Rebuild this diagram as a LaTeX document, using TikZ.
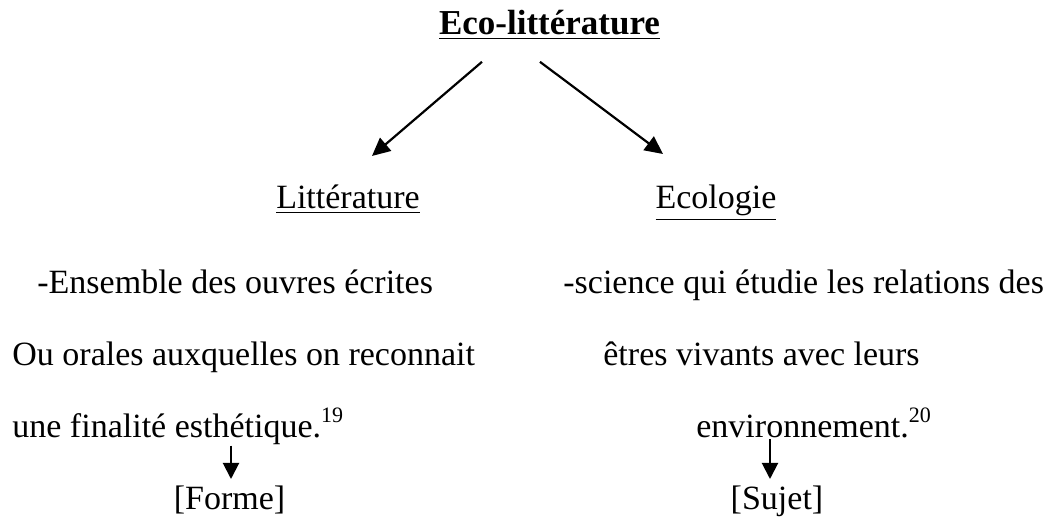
\documentclass[tikz,border=0pt]{standalone}
\usepackage{fontspec}
\setmainfont{Liberation Serif}
\usetikzlibrary{arrows.meta,calc}
\newcommand{\supnum}[1]{\raisebox{0.45em}{\fontsize{11}{12}\selectfont #1}}
\tikzset{
  txt/.style={inner sep=0pt, font=\fontsize{17}{20}\selectfont},
  ttl/.style={inner sep=0pt, font=\fontsize{17.5}{20}\selectfont\bfseries},
  arr/.style={line width=1.1pt, -{Triangle[length=9pt,width=8.5pt]}},
  sarr/.style={line width=1pt, -{Triangle[length=8pt,width=8pt]}}
}
\begin{document}
\begin{tikzpicture}[x=0.5pt,y=-0.5pt]
\useasboundingbox (0,0) rectangle (1057,518);
\node[ttl, anchor=base] (title) at (549.5,35) {\underline{Eco-littérature}};
\node[txt, anchor=base] (litt) at (348,209) {\underline{Littérature}};
\node[txt, anchor=base] (eco) at (716,209) {\underline{Ecologie}};
\node[txt, anchor=base west] (l1) at (37,294) {-Ensemble des ouvres écrites};
\node[txt, anchor=base west] (l2) at (12,366) {Ou orales auxquelles on reconnait};
\node[txt, anchor=base west] (l3) at (12,438) {une finalité esthétique.\supnum{19}};
\node[txt, anchor=base west] (r1) at (563,294) {-science qui étudie les relations des};
\node[txt, anchor=base west] (r2) at (603,366) {êtres vivants avec leurs};
\node[txt, anchor=base west] (r3) at (696,438) {environnement.\supnum{20}};
\node[txt, anchor=base] (forme) at (229.5,510) {[Forme]};
\node[txt, anchor=base] (sujet) at (777,510) {[Sujet]};
\draw[arr] ($(title.south)+(-67.5,22)$) -- ($(litt.north)+(24,-29)$);
\draw[arr] ($(title.south)+(-9.5,22)$) -- ($(eco.north)+(-53,-31)$);
\draw[sarr] (l3.south -| 231,0) -- (231,479);
\draw[sarr] (r3.south -| 770,0) -- (770,479);
\end{tikzpicture}
\end{document}
